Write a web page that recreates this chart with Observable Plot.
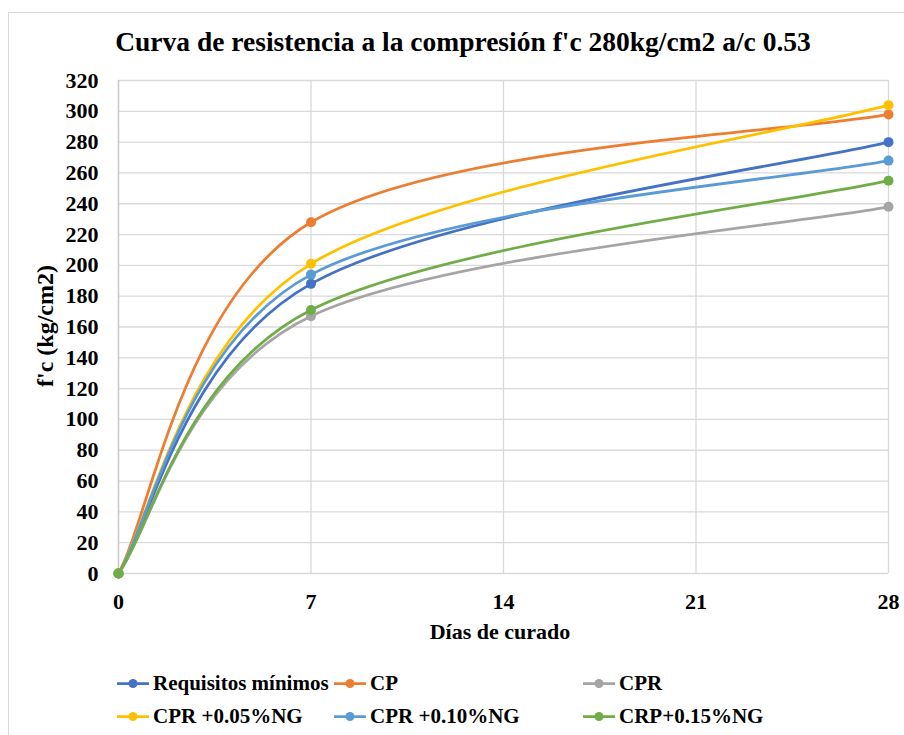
<!DOCTYPE html>
<html>
<head>
<meta charset="utf-8">
<script src="https://cdn.jsdelivr.net/npm/d3@7"></script>
<script src="https://cdn.jsdelivr.net/npm/@observablehq/plot@0.6"></script>
<style>
  html, body { margin: 0; padding: 0; background: #fff; }
  #wrap { position: relative; width: 904px; height: 735px; overflow: hidden;
          font-family: "Liberation Serif", Tinos, "Times New Roman", Times, "DejaVu Serif", "Noto Serif", serif; font-weight: bold; color: #000; }
  #border { position: absolute; left: 8px; top: 12px; width: 1000px; height: 1000px;
            border-left: 1px solid #d9d9d9; border-top: 1px solid #d9d9d9; }
  #title { position: absolute; left: 8px; width: 910px; top: 24px; text-align: center; font-size: 27.5px; line-height: 36px; white-space: nowrap; }
  #ylabel { position: absolute; left: 45px; top: 326px; transform: translate(-50%, -50%) rotate(-90deg);
            font-size: 24px; white-space: nowrap; }
  #xlabel { position: absolute; left: 500px; top: 632px; transform: translate(-50%, -50%); font-size: 22px; white-space: nowrap; }
  #chart { position: absolute; left: 0; top: 0; }
  .leg { position: absolute; display: flex; align-items: center; font-size: 21px; white-space: nowrap; transform: translateY(-50%); }
  .leg svg { margin-right: 4px; }
</style>
</head>
<body>
<div id="wrap">
  <div id="border"></div>
  <div id="chart"></div>
  <div id="title">Curva de resistencia a la compresión f'c 280kg/cm2 a/c 0.53</div>
  <div id="ylabel">f'c (kg/cm2)</div>
  <div id="xlabel">Días de curado</div>
</div>
<script>
const days = [0, 7, 28];
const seriesNames = ["Requisitos mínimos", "CP", "CPR", "CPR +0.05%NG", "CPR +0.10%NG", "CRP+0.15%NG"];
const requisitosMinimos = [0, 188, 280];
const cp = [0, 228, 298];
const cpr = [0, 167, 238];
const cpr005 = [0, 201, 304];
const cpr010 = [0, 194, 268];
const crp015 = [0, 171, 255];
const colors = ["#4472C4", "#ED7D31", "#A5A5A5", "#FFC000", "#5B9BD5", "#70AD47"];
const xTicks = [0, 7, 14, 21, 28];
const yTicks = d3.range(0, 321, 20);

const allValues = [requisitosMinimos, cp, cpr, cpr005, cpr010, crp015];
const rows = [];
allValues.forEach((vals, i) => {
  vals.forEach((v, j) => rows.push({ series: seriesNames[i], day: days[j], value: v }));
});

// Spreadsheet-style smoothed line (Catmull-Rom Bezier, duplicated end points)
function smoothCurve(context) {
  let pts = [];
  return {
    areaStart() {}, areaEnd() {},
    lineStart() { pts = []; },
    point(x, y) { pts.push([+x, +y]); },
    lineEnd() {
      const n = pts.length;
      if (!n) return;
      context.moveTo(pts[0][0], pts[0][1]);
      if (n === 2) { context.lineTo(pts[1][0], pts[1][1]); return; }
      for (let i = 0; i < n - 1; i++) {
        const p0 = pts[Math.max(0, i - 1)], p1 = pts[i], p2 = pts[i + 1], p3 = pts[Math.min(n - 1, i + 2)];
        context.bezierCurveTo(
          p1[0] + (p2[0] - p0[0]) / 6, p1[1] + (p2[1] - p0[1]) / 6,
          p2[0] - (p3[0] - p1[0]) / 6, p2[1] - (p3[1] - p1[1]) / 6,
          p2[0], p2[1]);
      }
    }
  };
}

const font = "'Liberation Serif', Tinos, 'Times New Roman', Times, 'DejaVu Serif', 'Noto Serif', serif";
const plot = Plot.plot({
  width: 904,
  height: 660,
  marginLeft: 118,
  marginRight: 16,
  marginTop: 80,
  marginBottom: 87,
  style: { fontFamily: font, fontWeight: "bold", fontSize: "22px", color: "#000", background: "transparent" },
  x: { domain: [0, 28] },
  y: { domain: [0, 320] },
  color: { domain: seriesNames, range: colors },
  marks: [
    Plot.gridY(yTicks, { stroke: "#d9d9d9", strokeOpacity: 1, strokeWidth: 1.3 }),
    Plot.gridX(xTicks, { stroke: "#d9d9d9", strokeOpacity: 1, strokeWidth: 1.3 }),
    Plot.ruleX([0], { stroke: "#c8c8c8", strokeWidth: 1.3 }),
    Plot.axisY(yTicks, { tickSize: 0, tickPadding: 20, label: null, fontSize: 22 }),
    Plot.axisX(xTicks, { tickSize: 0, tickPadding: 20, label: null, fontSize: 22 }),
    ...seriesNames.map(name =>
      Plot.line(rows.filter(d => d.series === name), { x: "day", y: "value", stroke: "series", strokeWidth: 2.75, curve: smoothCurve })
    ),
    ...seriesNames.map(name =>
      Plot.dot(rows.filter(d => d.series === name), { x: "day", y: "value", fill: "series", r: 5 })
    )
  ]
});
document.getElementById("chart").appendChild(plot);

// legend
const wrap = document.getElementById("wrap");
const legPos = [[117, 683], [334, 683], [583, 683], [117, 716], [334, 716], [583, 716]];
seriesNames.forEach((name, i) => {
  const div = document.createElement("div");
  div.className = "leg";
  div.style.left = legPos[i][0] + "px";
  div.style.top = legPos[i][1] + "px";
  const c = colors[i];
  div.innerHTML = `<svg width="32" height="12"><line x1="0" y1="6" x2="32" y2="6" stroke="${c}" stroke-width="2.75"/><circle cx="16" cy="6" r="4.5" fill="${c}"/></svg><span>${name}</span>`;
  wrap.appendChild(div);
});
</script>
</body>
</html>
